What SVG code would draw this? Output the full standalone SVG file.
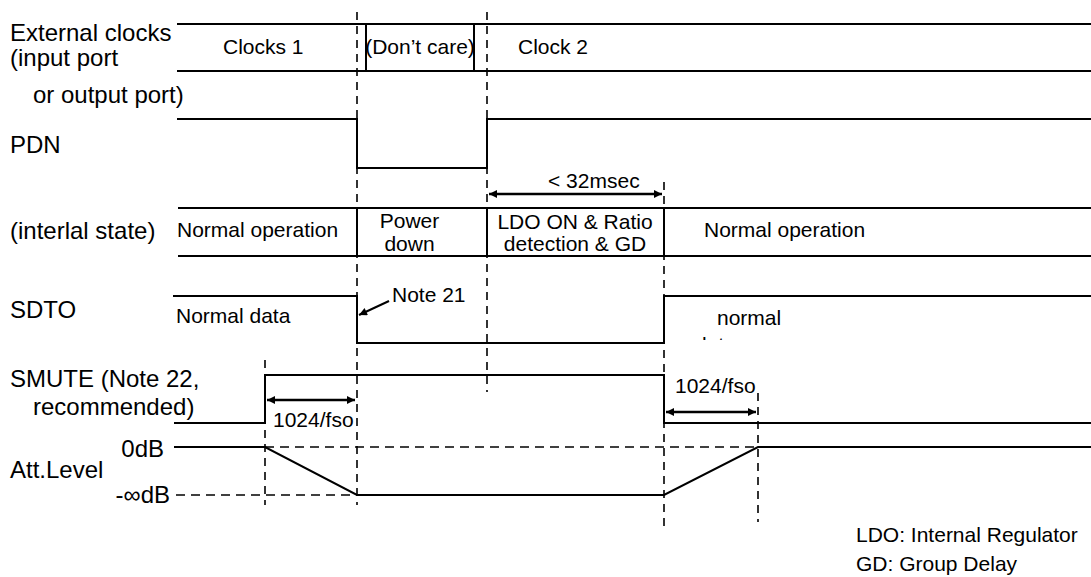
<svg xmlns="http://www.w3.org/2000/svg" width="1091" height="577" viewBox="0 0 1091 577">
<style>
text{font-family:"Liberation Sans",Arial,sans-serif;fill:#000}
.lb{font-size:24px}
.tx{font-size:21px}
.mid{text-anchor:middle}
.end{text-anchor:end}
.w{fill:none;stroke:#000;stroke-width:2}
.d{fill:none;stroke:#000;stroke-width:1.6;stroke-dasharray:8,6}
.dh{fill:none;stroke:#000;stroke-width:1.6;stroke-dasharray:9,6}
.ar{fill:none;stroke:#000;stroke-width:2.5}
</style>
<defs>
<marker id="ah" viewBox="0 0 10 10" refX="10" refY="5" markerWidth="10" markerHeight="8" markerUnits="userSpaceOnUse" orient="auto-start-reverse">
<path d="M0,0 L10,5 L0,10 z" fill="#000"/>
</marker>
<clipPath id="cut"><rect x="680" y="330" width="80" height="10"/></clipPath>
</defs>
<rect width="1091" height="577" fill="#fff"/>

<g id="guides">
<path class="d" d="M357,12 V505 M487,12 V392 M265,360 V505 M664,182 V527 M758,393 V522"/>
</g>

<g id="clocks">
<text class="lb" x="10" y="41">External clocks</text>
<text class="lb" x="10" y="66">(input port</text>
<text class="lb" x="33" y="103">or output port)</text>
<path class="w" d="M177,24 H1091 M177,71 H1091 M366,24 V71 M474,24 V71"/>
<text class="tx" x="223" y="54">Clocks 1</text>
<text class="tx mid" x="420" y="54">(Don’t care)</text>
<text class="tx" x="518" y="54">Clock 2</text>
</g>

<g id="pdn">
<text class="lb" x="10" y="153">PDN</text>
<path class="w" d="M177,119 H357 V168 H487 V119 H1091"/>
</g>

<g id="state">
<text class="lb" x="10" y="239">(interlal state)</text>
<path class="w" d="M178,208 H1091 M178,256 H1091 M357,208 V256 M487,208 V256 M664,208 V256"/>
<text class="tx" x="177" y="237">Normal operation</text>
<text class="tx mid" x="409.5" y="228">Power</text>
<text class="tx mid" x="409.5" y="251">down</text>
<text class="tx mid" x="575" y="229">LDO ON &amp; Ratio</text>
<text class="tx mid" x="575" y="251">detection &amp; GD</text>
<text class="tx" x="704" y="237">Normal operation</text>
<text class="tx" x="548" y="188">&lt; 32msec</text>
</g>

<g id="sdto">
<text class="lb" x="10" y="318">SDTO</text>
<path class="w" d="M173,296 H357 V343 H664 V296 H1091"/>
<text class="tx" x="176" y="323">Normal data</text>
<text class="tx" x="392" y="302">Note 21</text>
<text class="tx" x="717" y="325">normal</text>
<text class="tx" x="695" y="352" clip-path="url(#cut)">data</text>
</g>

<g id="smute">
<text class="lb" x="10" y="387">SMUTE (Note 22,</text>
<text class="lb" x="33" y="415">recommended)</text>
<path class="w" d="M174,423 H265 V375 H664 V423 H1091"/>
<text class="tx" x="273" y="427">1024/fso</text>
<text class="tx" x="675" y="393">1024/fso</text>
</g>

<g id="att">
<text class="lb end" x="164" y="457">0dB</text>
<text class="lb" x="10" y="478">Att.Level</text>
<text class="lb end" x="170" y="503">-∞dB</text>
<path class="w" d="M174,447 H265 L357,495 H664 L758,447 H1091"/>
<path class="dh" d="M265,447 H758 M176,495 H357"/>
</g>

<g id="legend">
<text class="tx" x="856" y="542">LDO: Internal Regulator</text>
<text class="tx" x="856" y="571">GD: Group Delay</text>
</g>

<g id="connectors">
<path class="ar" d="M489,194 H662" marker-start="url(#ah)" marker-end="url(#ah)"/>
<path class="ar" d="M267,400 H355" marker-start="url(#ah)" marker-end="url(#ah)"/>
<path class="ar" d="M666,412 H756" marker-start="url(#ah)" marker-end="url(#ah)"/>
<path class="ar" d="M389,301 L359,315" marker-end="url(#ah)" style="stroke-width:2"/>
</g>
</svg>
